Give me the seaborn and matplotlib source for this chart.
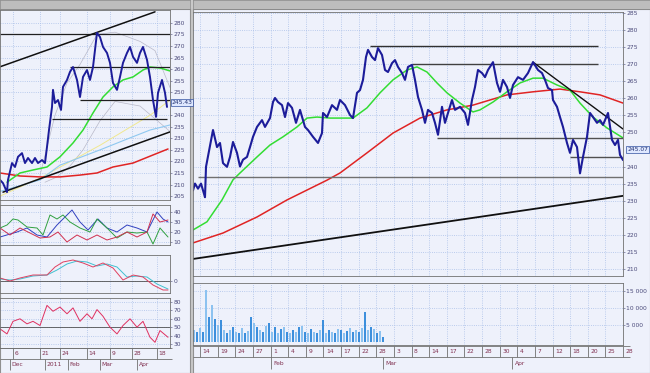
import numpy as np
import matplotlib
matplotlib.use("Agg")
import matplotlib.pyplot as plt
import matplotlib.transforms as mtransforms
import seaborn as sns

# ---------------- right chart (hourly bars, x = bar number) ----------------
r_bar = [-7, -5, -2, 1, 4, 5, 6, 13, 17, 20, 23, 27, 30, 33, 37, 40, 43, 47, 50, 53, 57, 62, 65, 70,
         73, 75, 78, 82, 85, 88, 92, 96, 100, 105, 108, 113, 118, 122, 123, 127, 132, 137, 140, 145,
         150, 153, 157, 160, 163, 166, 168, 172, 175, 178, 182, 185, 188, 192, 195, 198, 202, 205,
         208, 212, 215, 218, 222, 225, 228, 232, 235, 238, 242, 245, 248, 252, 255, 260, 265, 268,
         272, 275, 278, 282, 285, 288, 293, 297, 300, 303, 307, 310, 313, 318, 323, 328, 333, 338,
         342, 345, 348, 352, 353, 357, 360, 363, 367, 370, 373, 377, 380, 383, 387, 390, 393, 397,
         400, 403, 408, 412, 415, 418, 420, 423]
r_close = [233, 235, 233.5, 235, 232, 231, 239.9, 250.7, 245.7, 246.9, 241, 239.9, 242.8, 247.2, 244,
           240, 242, 242.8, 245.7, 248.7, 251.6, 253.6, 251.6, 254.2, 258.9, 260.1, 258.9, 258, 254.5,
           258.6, 257.2, 252.8, 256.6, 251.6, 250.7, 248.7, 246.9, 249.8, 255.7, 254.5, 258, 256.6,
           259.5, 258, 255.1, 254.2, 261.6, 262.4, 265.4, 272.1, 274.2, 272.1, 271.2, 274.7, 272.7,
           268.3, 267.7, 270.3, 271.2, 269.2, 267.4, 265.4, 269.2, 269.8, 265.4, 260.4, 256.6, 252.8,
           256.6, 255.7, 252.8, 249.3, 257.5, 252.8, 255.7, 259.5, 256.6, 257.5, 255.7, 252.2, 259.5,
           263.3, 268.3, 267.4, 266.2, 268.3, 270.6, 264.5, 261.9, 265.4, 263.3, 260.1, 263.9, 266.2,
           265.4, 267.4, 270.6, 268.3, 267.4, 265.4, 263, 262.4, 259.5, 257.5, 254.5, 251.6, 246.9,
           244, 247.8, 245.7, 238, 242.8, 248.7, 255.7, 254.5, 252.8, 253.6, 252.2, 255.7, 247.8,
           246.3, 247.8, 243.4, 241.9]

r_ma_fast_bar = [-7, 7, 22, 33, 40, 57, 70, 83, 97, 107, 117, 130, 140, 153, 167, 180, 193, 207, 217,
                 227, 237, 247, 260, 273, 280, 293, 307, 320, 333, 343, 357, 370, 380, 393, 407, 423]
r_ma_fast = [221.4, 223.8, 230.2, 236.1, 238.1, 242.8, 246.3, 248.7, 251.6, 254.2, 254.5, 254.2, 254.2,
             254.2, 257.2, 261.6, 265.4, 268.3, 269.2, 267.7, 264.5, 261.6, 258.6, 256, 256.6, 258.9,
             261.9, 264.5, 265.9, 265.9, 263.9, 262.4, 258.6, 254.5, 251.3, 248.4]

r_ma_slow_bar = [-7, 23, 57, 87, 107, 127, 140, 167, 193, 220, 247, 273, 290, 307, 333, 360, 380, 400, 423]
r_ma_slow = [217.6, 220.5, 225.2, 230.2, 233.1, 236, 238.1, 244, 249.8, 254.2, 256.6, 258, 259.5, 261,
             261.9, 262.7, 261.9, 261, 258.6]

# support / resistance levels: (price, from bar, to bar)
r_levels = [275.3, 270.0, 248.5, 242.8, 237.0]
r_level_from = [170, 212, 237, 370, -2]
r_level_to = [398, 398, 423, 422, 423]
r_level_colors = ["#303030", "#404040", "#505050", "#505050", "#707070"]

# trend lines (two end points each)
r_trend_up_bar = [-7, 423]
r_trend_up = [212.9, 231.4]
r_trend_dn_bar = [333, 423]
r_trend_dn = [270.6, 251.0]

# volume
v_bar = list(range(-6, 184, 3))
v_vol = [3500, 2800, 4200, 3000, 15300, 7400, 10900, 6800, 4900, 6500, 3500, 2500, 3600, 4500, 3000,
         2600, 4200, 2500, 3300, 7400, 5500, 4400, 3500, 2800, 4600, 5500, 3000, 4500, 2600, 3800,
         4500, 3000, 2500, 3600, 2800, 4400, 4600, 3000, 2500, 3900, 3000, 2500, 3600, 6500, 2600,
         3400, 3000, 2500, 3800, 3500, 2600, 3100, 4000, 3000, 3500, 2900, 4200, 8900, 3500, 4500,
         3800, 2600, 3200, 1500]

r_price_ticks = [210, 215, 220, 225, 230, 235, 240, 250, 255, 260, 265, 270, 275, 280, 285]
r_day_labels = ["14", "19", "24", "27", "1", "4", "9", "14", "17", "22", "28", "3", "8", "14", "17",
                "22", "28", "30", "4", "7", "12", "18", "20", "25", "28"]
r_months = ["Feb", "Mar", "Apr"]
r_month_bar = [71, 183, 312]
r_last = "245.07"

# ---------------- left chart (daily bars, x = bar number) ----------------
l_bar = [0, 3, 7, 8, 12, 15, 18, 22, 25, 28, 32, 35, 38, 42, 45, 47, 49, 52, 53, 55, 58, 61, 63, 67,
         70, 73, 77, 80, 83, 87, 90, 93, 95, 97, 100, 103, 107, 110, 113, 117, 120, 123, 127, 130,
         133, 137, 140, 143, 147, 150, 153, 156, 158, 162, 165, 167]
l_close = [212, 210.6, 206.7, 212, 219.3, 217.6, 222, 223.6, 219.3, 221.5, 219.3, 221.5, 219.3, 220.6,
           219.3, 226.3, 233.6, 243.6, 251, 245.3, 246.6, 242.3, 252.3, 255.3, 258.8, 260.9, 255.3,
           247.9, 256.6, 259.6, 255.3, 260.9, 268.3, 275.7, 273.9, 269.6, 267, 262.7, 254, 251, 256.6,
           262.7, 267, 269.6, 265.3, 262.7, 267, 269.6, 264, 256.6, 246.6, 239.3, 249.7, 255.3, 249.7,
           243.6]
l_green_bar = [7, 20, 33, 47, 60, 73, 83, 93, 103, 113, 123, 133, 143, 150, 160, 170]
l_green = [211, 215, 216.3, 217.6, 222, 228, 233.6, 241, 247.9, 252.3, 255.3, 256.6, 259.6, 260.9, 260.5, 259.2]
l_red_bar = [0, 20, 40, 60, 80, 97, 113, 133, 153, 168]
l_red = [215, 213.7, 213.3, 213.3, 214.1, 215, 217.6, 219.3, 222.8, 225.4]
l_blue_bar = [0, 40, 60, 100, 130, 150, 170]
l_blue = [207, 212, 218.4, 225, 230.2, 233.6, 235.8]
l_yellow_bar = [0, 40, 100, 150, 170]
l_yellow = [205, 212.8, 227, 240, 246.6]
l_bb_up_bar = [40, 55, 67, 80, 97, 115, 140, 155, 170]
l_bb_up = [214, 240, 254, 262, 275, 276, 272, 268, 252]
l_bb_lo_bar = [45, 57, 70, 83, 100, 115, 140, 170]
l_bb_lo = [211, 213.3, 218, 225, 237.6, 246, 244, 233]
l_trend_up_bar = [0, 155]
l_trend_up = [261, 284.8]
l_trend_lo_bar = [3, 170]
l_trend_lo = [206.7, 232.8]
l_levels = [275.2, 261.0, 246.6, 238.4]
l_level_from = [0, 70, 80, 52]
l_level_to = [170, 170, 170, 167]
l_price_ticks = [205, 210, 215, 220, 225, 230, 235, 240, 250, 255, 260, 265, 270, 275, 280]
l_last = "245.43"

# directional movement panel
dmi_adx_bar = [0, 17, 27, 37, 47, 57, 67, 72, 80, 88, 98, 107, 117, 127, 137, 147, 157, 163, 168]
dmi_adx = [15, 20, 24, 17, 15, 27, 37, 42, 30, 22, 33, 24, 20, 27, 24, 20, 40, 33, 30]
dmi_plus_bar = [0, 7, 13, 18, 27, 37, 43, 50, 57, 63, 70, 80, 90, 97, 107, 117, 127, 137, 147, 153, 160, 168]
dmi_plus = [24, 27, 33, 32, 25, 24, 17, 37, 33, 37, 30, 24, 20, 33, 24, 14, 20, 19, 20, 8, 24, 15]
dmi_minus_bar = [0, 10, 20, 30, 40, 50, 58, 67, 77, 87, 97, 107, 117, 127, 137, 147, 153, 160, 168]
dmi_minus = [24, 17, 24, 19, 14, 15, 20, 10, 17, 12, 17, 12, 15, 20, 15, 20, 38, 30, 32]

# macd panel
macd_bar = [0, 10, 20, 33, 47, 55, 63, 73, 83, 93, 103, 113, 123, 133, 143, 153, 163, 168]
macd = [3, 0, 3, 6, 6, 14, 19, 21, 18, 14, 18, 13, 1, 6, 4, -4, -9, -9]
macd_sig_bar = [0, 10, 20, 33, 47, 57, 67, 77, 87, 97, 107, 117, 127, 137, 147, 157, 168]
macd_sig = [2, 1, 2, 5, 6, 11, 17, 20, 19, 15, 17, 14, 4, 5, 4, -3, -8]

# rsi panel
rsi_bar = [0, 7, 13, 20, 27, 33, 40, 47, 53, 60, 67, 73, 80, 87, 92, 97, 103, 110, 117, 123, 130,
           137, 143, 150, 155, 160, 168]
rsi = [48, 42, 57, 60, 54, 57, 52, 76, 69, 74, 66, 73, 57, 66, 60, 71, 63, 50, 42, 52, 60, 50, 57,
       38, 32, 46, 38]

l_tick_bar = [13, 40, 60, 87, 110, 132, 157]
l_tick_labels = ["6", "21", "24", "14", "9", "28", "18"]
l_months = ["Dec", "2011", "Feb", "Mar", "Apr"]
l_month_bar = [10, 45, 68, 100, 137]

# ---------------- styling ----------------
sns.set_style("white")
plt.rcParams["font.family"] = ["DejaVu Sans"]
W, H = 650, 373
fig = plt.figure(figsize=(6.5, 3.73), dpi=100, facecolor="#c9c9c9")

PALE = "#eef1fb"
GRID = "#a9bfe8"
NAVY = "#1c1c9a"
GREEN = "#33dd33"
RED = "#e02424"
TXT = "#4a4a7a"
FS = 4.3


def pax(x0, y0, x1, y1, **kw):
    return fig.add_axes([x0 / W, 1 - y1 / H, (x1 - x0) / W, (y1 - y0) / H], **kw)


def style(ax, xlim, ylim, yticks=None, ylabels=None, xgrid=None):
    ax.set_facecolor(PALE)
    ax.set_xlim(*xlim)
    ax.set_ylim(*ylim)
    ax.set_xlabel("")
    ax.set_ylabel("")
    ax.yaxis.tick_right()
    ax.set_xticks(xgrid if xgrid is not None else [])
    ax.tick_params(axis="x", length=0, labelbottom=False)
    if yticks is not None:
        ax.set_yticks(yticks)
        ax.set_yticklabels(ylabels if ylabels is not None else [str(t) for t in yticks])
    else:
        ax.set_yticks([])
    ax.tick_params(axis="y", labelsize=FS, colors=TXT, length=1.5, pad=1, width=0.4)
    ax.grid(True, color=GRID, ls=":", lw=0.6)
    for s in ax.spines.values():
        s.set_color("#707070")
        s.set_linewidth(0.6)


def line(ax, x, y, color, lw=1.0, alpha=1.0):
    sns.lineplot(x=x, y=y, ax=ax, color=color, lw=lw, alpha=alpha, estimator=None,
                 sort=False, legend=False)


def last_box(ax, text, value):
    tr = mtransforms.blended_transform_factory(ax.transAxes, ax.transData)
    ax.text(1.01, value, text, transform=tr, fontsize=FS, color="#203070", va="center", ha="left",
            bbox=dict(boxstyle="square,pad=0.15", fc="#dfe8ff", ec="#3050a0", lw=0.5))


# window chrome
for x0, x1 in [(0, 190), (193, 650)]:
    bg = pax(x0, 9, x1, 373)
    bg.set_facecolor(PALE)
    bg.set_xticks([]); bg.set_yticks([])
    for s in bg.spines.values():
        s.set_color("#909090"); s.set_linewidth(0.8)
    tb = pax(x0, 0, x1, 9)
    tb.set_facecolor("#bdbdbd")
    tb.set_xticks([]); tb.set_yticks([])
    for s in tb.spines.values():
        s.set_color("#8a8a8a"); s.set_linewidth(0.5)

# ---------------- right price panel ----------------
r_xlim = (-7, 423)
r_ticks = np.linspace(0, 423, 25)
ax = pax(193, 12, 623, 276)
line(ax, r_ma_slow_bar, r_ma_slow, RED, lw=1.1)
line(ax, r_ma_fast_bar, r_ma_fast, GREEN, lw=1.1)
ax.hlines(r_levels, r_level_from, r_level_to, colors=r_level_colors, lw=1.0)
line(ax, r_trend_up_bar, r_trend_up, "#101010", lw=1.3)
line(ax, r_trend_dn_bar, r_trend_dn, "#101010", lw=1.0)
line(ax, r_bar, r_close, NAVY, lw=1.5)
style(ax, r_xlim, (207.9, 285.3), yticks=r_price_ticks, xgrid=r_ticks)
last_box(ax, r_last, 245.0)

# ---------------- right volume panel ----------------
axv = pax(193, 283, 623, 345)
bar_colors = ["#8cc2f0" if i % 2 == 0 else "#3d8fdc" for i in range(len(v_bar))]
axv.bar(v_bar, v_vol, width=2.2, color=bar_colors, linewidth=0)
style(axv, r_xlim, (-900, 17400), yticks=[5000, 10000, 15000],
      ylabels=["5 000", "10 000", "15 000"], xgrid=r_ticks)

# right date strip
axd = pax(193, 345, 650, 372)
axd.set_xlim(-7, 450)
axd.set_ylim(0, 1)
axd.axis("off")
axd.hlines([0.98, 0.55], -7, 430, colors="#707070", lw=0.6)
axd.vlines(r_ticks, 0.55, 0.98, colors="#707070", lw=0.6)
for t, lab in zip(r_ticks, r_day_labels):
    axd.text(t + 2.5, 0.76, lab, fontsize=FS, color="#803050", va="center", ha="left")
axd.vlines(r_month_bar, 0.1, 0.55, colors="#707070", lw=0.6)
for t, lab in zip(r_month_bar, r_months):
    axd.text(t + 2.5, 0.32, lab, fontsize=FS, color="#803050", va="center", ha="left")

# ---------------- left price panel ----------------
l_xlim = (0, 170)
axl = pax(0, 10, 170, 200)
line(axl, l_bb_up_bar, l_bb_up, "#b8b8c8", lw=0.5)
line(axl, l_bb_lo_bar, l_bb_lo, "#b8b8c8", lw=0.5)
line(axl, l_yellow_bar, l_yellow, "#f0e890", lw=0.7)
line(axl, l_blue_bar, l_blue, "#8fc8f0", lw=0.8)
line(axl, l_red_bar, l_red, RED, lw=1.1)
line(axl, l_green_bar, l_green, GREEN, lw=1.1)
axl.hlines(l_levels, l_level_from, l_level_to, colors="#202020", lw=0.9)
line(axl, l_trend_up_bar, l_trend_up, "#101010", lw=1.1)
line(axl, l_trend_lo_bar, l_trend_lo, "#101010", lw=1.1)
line(axl, l_bar, l_close, NAVY, lw=1.4)
style(axl, l_xlim, (203.3, 285.6), yticks=l_price_ticks, xgrid=l_tick_bar)
last_box(axl, l_last, 245.4)

# directional movement
axo = pax(0, 205, 170, 245)
line(axo, dmi_adx_bar, dmi_adx, "#3040c0", lw=0.7)
line(axo, dmi_plus_bar, dmi_plus, "#30a040", lw=0.7)
line(axo, dmi_minus_bar, dmi_minus, "#d03050", lw=0.7)
style(axo, l_xlim, (7, 47), yticks=[10, 20, 30, 40], xgrid=l_tick_bar)

# macd
axm = pax(0, 255, 170, 293)
axm.axhline(0, color="#505050", lw=0.6)
line(axm, macd_sig_bar, macd_sig, "#40c0d0", lw=0.7)
line(axm, macd_bar, macd, "#e04060", lw=0.7)
style(axm, l_xlim, (-12, 26), yticks=[0], xgrid=l_tick_bar)

# rsi
axr = pax(0, 298, 170, 348)
axr.axhline(50, color="#505050", lw=0.6)
line(axr, rsi_bar, rsi, "#e03060", lw=0.7)
style(axr, l_xlim, (25.2, 84.8), yticks=[30, 40, 50, 60, 70, 80], xgrid=l_tick_bar)

# left date strip
axld = pax(0, 348, 190, 372)
axld.set_xlim(0, 190)
axld.set_ylim(0, 1)
axld.axis("off")
axld.hlines([0.98, 0.55], 0, 172, colors="#707070", lw=0.6)
axld.vlines(l_tick_bar, 0.55, 0.98, colors="#707070", lw=0.6)
for t, lab in zip(l_tick_bar, l_tick_labels):
    axld.text(t + 1.5, 0.76, lab, fontsize=FS, color="#803050", va="center", ha="left")
axld.vlines(l_month_bar, 0.1, 0.55, colors="#707070", lw=0.6)
for t, lab in zip(l_month_bar, l_months):
    axld.text(t + 1.5, 0.32, lab, fontsize=FS, color="#803050", va="center", ha="left")

fig.savefig("out.png", dpi=100, facecolor=fig.get_facecolor())
